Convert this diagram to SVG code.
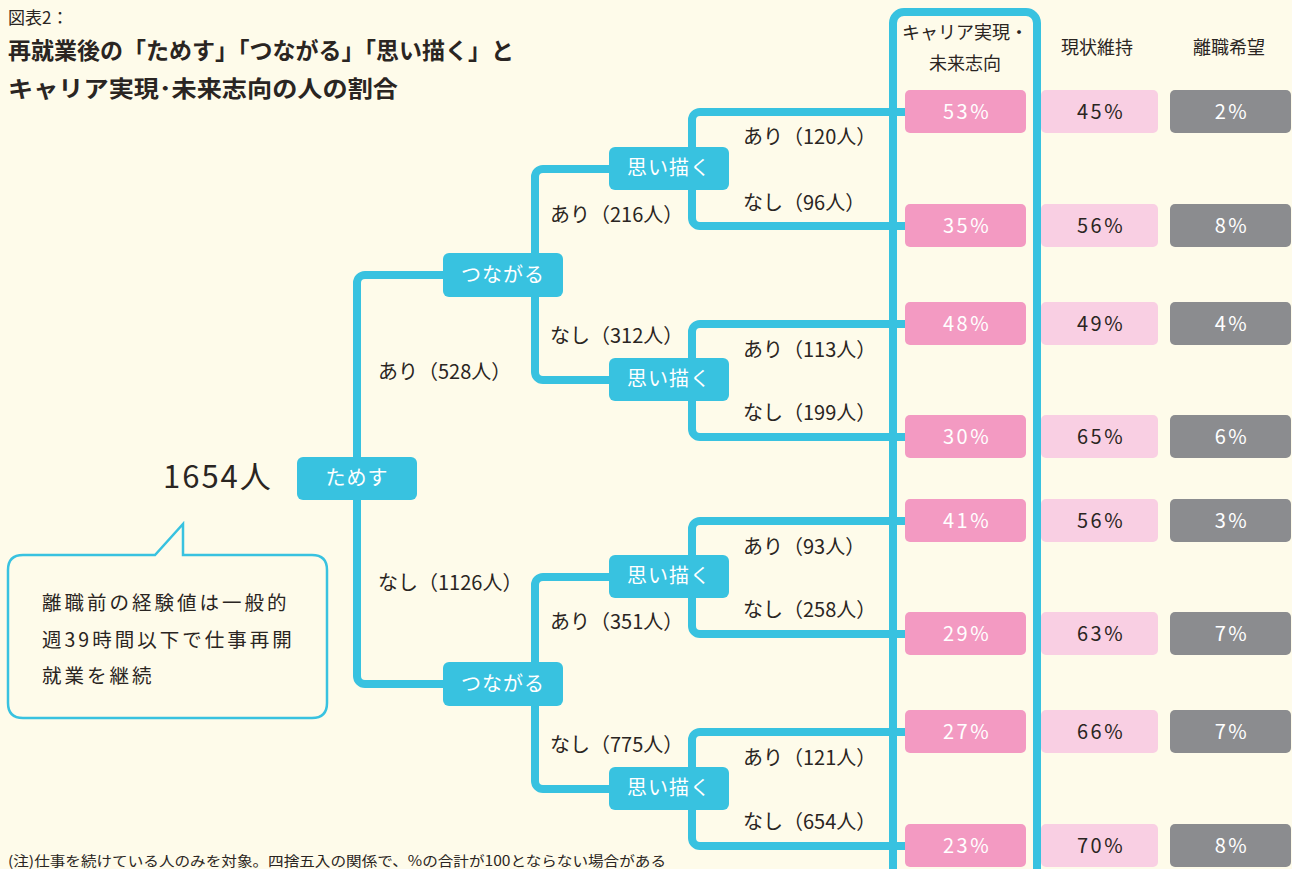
<svg xmlns="http://www.w3.org/2000/svg" width="1292" height="869" viewBox="0 0 1292 869">
<style>
text{font-family:"Noto Sans CJK JP","Noto Sans",sans-serif;fill:#2a2522}
.ttl{font-weight:bold;font-size:23px}
.lbl{font-size:20px}
.node rect{fill:#38C2E0}
.node text{fill:#fff;font-size:20px;letter-spacing:1px}
.conn path{fill:none;stroke:#38C2E0;stroke-width:8;stroke-linecap:butt}
.p1{fill:#F39AC2}.p2{fill:#F9CFE3}.p3{fill:#8B8C8F}
.pt{font-size:20px;letter-spacing:2.5px}
.w{fill:#fff}
.hd{font-size:18px}
</style>
<rect width="1292" height="869" fill="#FEFBEA"/>

<g id="title">
<text x="8" y="24" font-size="17">図表2：</text>
<text class="ttl" x="8" y="59" textLength="506" lengthAdjust="spacingAndGlyphs">再就業後の「ためす」「つながる」「思い描く」と</text>
<text class="ttl" x="8" y="97" textLength="390" lengthAdjust="spacingAndGlyphs">キャリア実現･未来志向の人の割合</text>
</g>

<g class="conn" id="connectors">
<rect x="893" y="12" width="144" height="900" rx="11" fill="none" stroke="#38C2E0" stroke-width="8"/>
<path d="M357,470 V283 A8,8 0 0 1 365,275 H450"/>
<path d="M357,490 V676 A8,8 0 0 0 365,684 H450"/>
<path d="M535,260 V177 A8,8 0 0 1 543,169 H615"/>
<path d="M535,290 V372 A8,8 0 0 0 543,380 H615"/>
<path d="M535,670 V585 A8,8 0 0 1 543,577 H615"/>
<path d="M535,700 V781 A8,8 0 0 0 543,789 H615"/>
<path d="M692,160 V120 A8,8 0 0 1 700,112 H910"/>
<path d="M692,180 V218 A8,8 0 0 0 700,226 H910"/>
<path d="M692,370 V332 A8,8 0 0 1 700,324 H910"/>
<path d="M692,390 V429 A8,8 0 0 0 700,437 H910"/>
<path d="M692,567 V529 A8,8 0 0 1 700,521 H910"/>
<path d="M692,587 V626 A8,8 0 0 0 700,634 H910"/>
<path d="M692,779 V740 A8,8 0 0 1 700,732 H910"/>
<path d="M692,799 V838 A8,8 0 0 0 700,846 H910"/>
</g>

<g id="labels" class="lbl">
<text x="378" y="379">あり（528人）</text>
<text x="378" y="590">なし（1126人）</text>
<text x="550" y="222">あり（216人）</text>
<text x="550" y="343">なし（312人）</text>
<text x="550" y="629">あり（351人）</text>
<text x="550" y="752">なし（775人）</text>
<text x="743" y="144">あり（120人）</text>
<text x="743" y="210">なし（96人）</text>
<text x="743" y="357">あり（113人）</text>
<text x="743" y="420">なし（199人）</text>
<text x="743" y="554">あり（93人）</text>
<text x="743" y="617">なし（258人）</text>
<text x="743" y="765">あり（121人）</text>
<text x="743" y="829">なし（654人）</text>
</g>

<g id="root">
<text x="163" y="488" font-size="31" letter-spacing="2">1654人</text>
</g>

<g id="callout">
<path d="M23,555 H155 L183,524 V555 H312 Q327,555 327,570 V703 Q327,718 312,718 H23 Q8,718 8,703 V570 Q8,555 23,555 Z" fill="#FEFBEA" stroke="#38C2E0" stroke-width="2.5"/>
<text x="42" y="610" font-size="19.5" letter-spacing="3">離職前の経験値は一般的</text>
<text x="42" y="647" font-size="19.5" letter-spacing="3">週39時間以下で仕事再開</text>
<text x="42" y="683" font-size="19.5" letter-spacing="3">就業を継続</text>
</g>

<g id="n-tamesu" class="node"><rect x="297" y="457" width="120" height="43" rx="6"/><text x="357" y="485" text-anchor="middle">ためす</text></g>
<g id="n-tsunagaru1" class="node"><rect x="443" y="253" width="120" height="44" rx="6"/><text x="503" y="282" text-anchor="middle">つながる</text></g>
<g id="n-tsunagaru2" class="node"><rect x="443" y="662" width="120" height="44" rx="6"/><text x="503" y="691" text-anchor="middle">つながる</text></g>
<g id="n-omoi1" class="node"><rect x="609" y="147" width="120" height="43" rx="6"/><text x="669" y="175" text-anchor="middle">思い描く</text></g>
<g id="n-omoi2" class="node"><rect x="609" y="358" width="120" height="43" rx="6"/><text x="669" y="386" text-anchor="middle">思い描く</text></g>
<g id="n-omoi3" class="node"><rect x="609" y="555" width="120" height="43" rx="6"/><text x="669" y="583" text-anchor="middle">思い描く</text></g>
<g id="n-omoi4" class="node"><rect x="609" y="767" width="120" height="43" rx="6"/><text x="669" y="795" text-anchor="middle">思い描く</text></g>

<g id="headers" class="hd" text-anchor="middle">
<text x="965" y="39">キャリア実現・</text>
<text x="965" y="70">未来志向</text>
<text x="1097" y="54">現状維持</text>
<text x="1229" y="54">離職希望</text>
</g>

<g id="results" text-anchor="middle" class="pt">
<g id="r1"><rect class="p1" x="905" y="90" width="121" height="43" rx="5"/><rect class="p2" x="1041" y="90" width="117" height="43" rx="5"/><rect class="p3" x="1170" y="90" width="121" height="43" rx="5"/>
<text class="w" x="967" y="119">53%</text><text x="1101" y="119">45%</text><text class="w" x="1232" y="119">2%</text></g>
<g id="r2"><rect class="p1" x="905" y="204" width="121" height="43" rx="5"/><rect class="p2" x="1041" y="204" width="117" height="43" rx="5"/><rect class="p3" x="1170" y="204" width="121" height="43" rx="5"/>
<text class="w" x="967" y="233">35%</text><text x="1101" y="233">56%</text><text class="w" x="1232" y="233">8%</text></g>
<g id="r3"><rect class="p1" x="905" y="302" width="121" height="43" rx="5"/><rect class="p2" x="1041" y="302" width="117" height="43" rx="5"/><rect class="p3" x="1170" y="302" width="121" height="43" rx="5"/>
<text class="w" x="967" y="331">48%</text><text x="1101" y="331">49%</text><text class="w" x="1232" y="331">4%</text></g>
<g id="r4"><rect class="p1" x="905" y="415" width="121" height="43" rx="5"/><rect class="p2" x="1041" y="415" width="117" height="43" rx="5"/><rect class="p3" x="1170" y="415" width="121" height="43" rx="5"/>
<text class="w" x="967" y="444">30%</text><text x="1101" y="444">65%</text><text class="w" x="1232" y="444">6%</text></g>
<g id="r5"><rect class="p1" x="905" y="499" width="121" height="43" rx="5"/><rect class="p2" x="1041" y="499" width="117" height="43" rx="5"/><rect class="p3" x="1170" y="499" width="121" height="43" rx="5"/>
<text class="w" x="967" y="528">41%</text><text x="1101" y="528">56%</text><text class="w" x="1232" y="528">3%</text></g>
<g id="r6"><rect class="p1" x="905" y="612" width="121" height="43" rx="5"/><rect class="p2" x="1041" y="612" width="117" height="43" rx="5"/><rect class="p3" x="1170" y="612" width="121" height="43" rx="5"/>
<text class="w" x="967" y="641">29%</text><text x="1101" y="641">63%</text><text class="w" x="1232" y="641">7%</text></g>
<g id="r7"><rect class="p1" x="905" y="710" width="121" height="43" rx="5"/><rect class="p2" x="1041" y="710" width="117" height="43" rx="5"/><rect class="p3" x="1170" y="710" width="121" height="43" rx="5"/>
<text class="w" x="967" y="739">27%</text><text x="1101" y="739">66%</text><text class="w" x="1232" y="739">7%</text></g>
<g id="r8"><rect class="p1" x="905" y="824" width="121" height="43" rx="5"/><rect class="p2" x="1041" y="824" width="117" height="43" rx="5"/><rect class="p3" x="1170" y="824" width="121" height="43" rx="5"/>
<text class="w" x="967" y="853">23%</text><text x="1101" y="853">70%</text><text class="w" x="1232" y="853">8%</text></g>
</g>

<g id="note">
<text x="8" y="866" font-size="14" textLength="658" lengthAdjust="spacingAndGlyphs">(注)仕事を続けている人のみを対象。四捨五入の関係で、%の合計が100とならない場合がある</text>
</g>
</svg>
